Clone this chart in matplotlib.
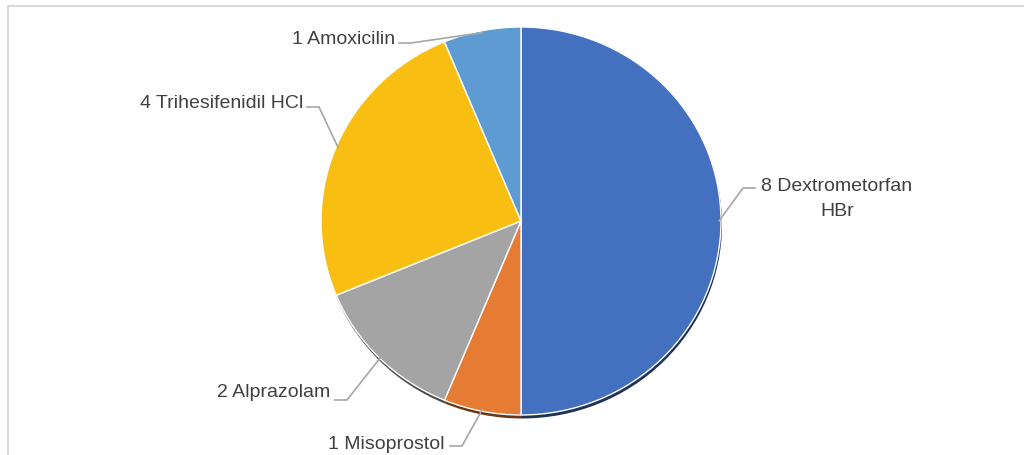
import numpy as np
import matplotlib as mpl
mpl.use('Agg')
from matplotlib import pyplot as plt
from matplotlib.colors import to_rgb

# data (clockwise from 12 o'clock)
drugs = ['Dextrometorfan\nHBr', 'Misoprostol', 'Alprazolam', 'Trihesifenidil HCl', 'Amoxicilin']
counts = [8, 1, 2, 4, 1]
colors = ['#4471BF', '#E67B33', '#A4A4A4', '#F9BE12', '#5E9BD3']

# figure geometry in pixels
W, H = 1024, 456
cx, cy = 521, 222          # pie centre
rx, ry = 200, 194          # pie radii (slightly squashed, like the original)

plt.rcParams['font.family'] = ['Liberation Sans', 'DejaVu Sans']

f = plt.figure(figsize=(W / 100, H / 100), dpi=100)

# light frame of the chart area
frame = f.add_axes([8 / W, -0.1, 1.2, (456 - 7) / H + 0.1])
frame.set_xticks([])
frame.set_yticks([])
frame.patch.set_alpha(0)
for s in frame.spines.values():
    s.set_color('#D9D9D9')
    s.set_linewidth(1.5)

ax = f.add_axes([(cx - rx) / W, (H - cy - ry) / H, 2 * rx / W, 2 * ry / H])

# shadow pie under the real one
dark = [tuple(0.45 * c for c in to_rgb(col)) for col in colors]
ax.pie(counts, colors=dark, startangle=90, counterclock=False,
       center=(0.005, -0.018), radius=1.0,
       wedgeprops=dict(linewidth=0))
wedges, _ = ax.pie(counts, colors=colors, startangle=90, counterclock=False,
                   radius=1.0,
                   wedgeprops=dict(edgecolor='white', linewidth=1.0))
ax.set_aspect('auto')
ax.set_xlim(-1, 1)
ax.set_ylim(-1, 1)
ax.axis('off')

def px2data(px, py):
    return (px - cx) / rx, (cy - py) / ry

# label anchors: text x, text y, alignment, leader start x, leader y (pixels)
labelPos = {
    'Dextrometorfan\nHBr': (837, 199, 'center', 743, 189),
    'Misoprostol': (444, 445, 'right', 450, 447),
    'Alprazolam': (330, 393, 'right', 335, 401),
    'Trihesifenidil HCl': (303, 103, 'right', 307, 108),
    'Amoxicilin': (395, 40, 'right', 399, 44),
}
hseg = 12 / rx

for w, name, n in zip(wedges, drugs, counts):
    tx, ty, ha, lx, ly = labelPos[name]
    x, y = px2data(tx, ty)
    ax.text(x, y, '%d %s' % (n, name), ha=ha, va='center', fontsize=14,
            color='#404040', multialignment='center', clip_on=False,
            linespacing=1.65)
    mid = np.deg2rad(0.5 * (w.theta1 + w.theta2))
    ex, ey = 0.99 * np.cos(mid), 0.99 * np.sin(mid)
    x0, y0 = px2data(lx, ly)
    if ex > 0:
        pts = [(x0 + hseg, y0), (x0, y0), (ex, ey)]
    else:
        pts = [(x0, y0), (x0 + hseg, y0), (ex, ey)]
    ax.plot([p[0] for p in pts], [p[1] for p in pts], color='#A6A6A6',
            lw=1.2, clip_on=False, zorder=5)

f.savefig('out.png', dpi=100)
